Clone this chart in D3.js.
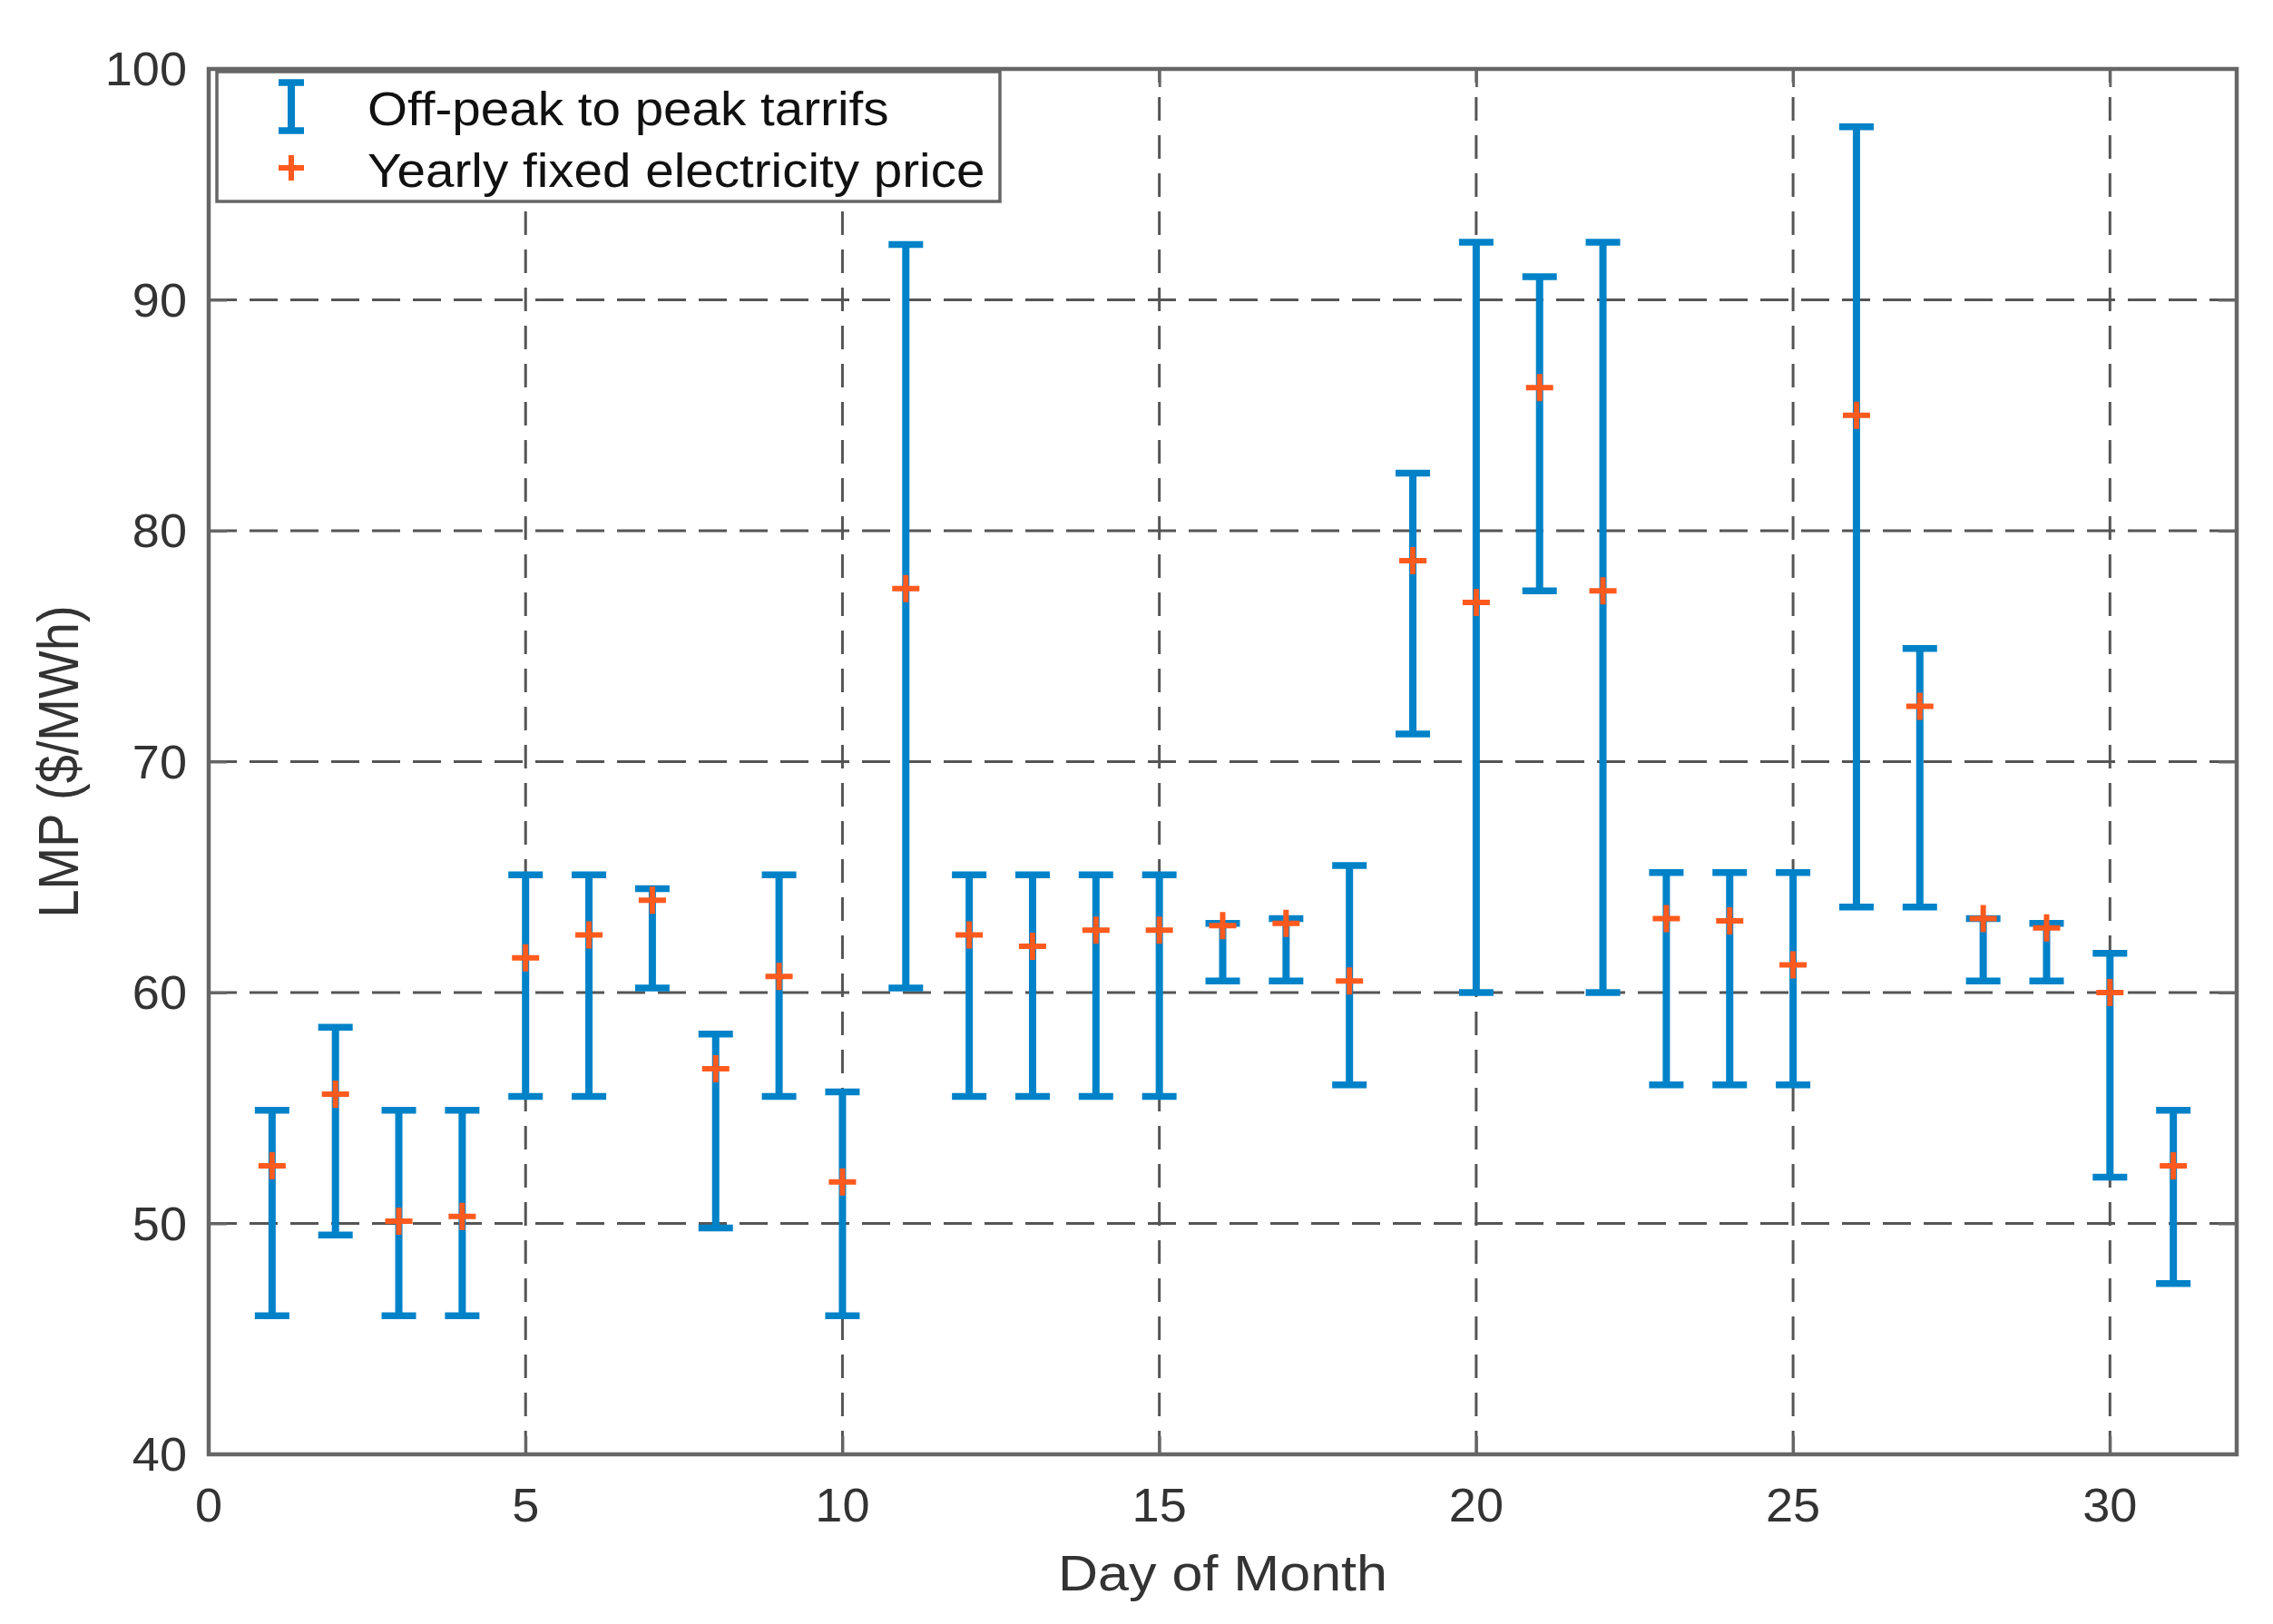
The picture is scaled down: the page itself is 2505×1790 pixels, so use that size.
<!DOCTYPE html>
<html>
<head>
<meta charset="utf-8">
<script src="https://d3js.org/d3.v7.min.js"></script>
<style>
    body { margin: 0; background: #fff; }
    text { font-family: "Liberation Sans", Arial, sans-serif; }
</style>
</head>
<body>
<script>

// dage i maaneden
var days = [1, 2, 3, 4, 5, 6, 7, 8, 9, 10, 11, 12, 13, 14, 15, 16,
            17, 18, 19, 20, 21, 22, 23, 24, 25, 26, 27, 28, 29, 30, 31];

// off-peak (lav) og peak (hoej) tarif
var offPeak = [46, 49.5, 46, 46, 55.5, 55.5, 60.2, 49.8, 55.5, 46, 60.2, 55.5, 55.5, 55.5, 55.5, 60.5,
               60.5, 56, 71.2, 60, 77.4, 60, 56, 56, 56, 63.7, 63.7, 60.5, 60.5, 52, 47.4];
var peak = [54.9, 58.5, 54.9, 54.9, 65.1, 65.1, 64.5, 58.2, 65.1, 55.7, 92.4, 65.1, 65.1, 65.1, 65.1, 63.0,
            63.2, 65.5, 82.5, 92.5, 91.0, 92.5, 65.2, 65.2, 65.2, 97.5, 74.9, 63.2, 63.0, 61.7, 54.9];

// fast aarlig elpris
var fixedPrice = [52.5, 55.6, 50.1, 50.3, 61.5, 62.5, 64.0, 56.7, 60.7, 51.8, 77.5, 62.5, 62.0, 62.7, 62.7, 62.9,
                  63.0, 60.5, 78.7, 76.9, 86.2, 77.4, 63.2, 63.1, 61.2, 85.0, 72.4, 63.2, 62.8, 60.0, 52.5];

var xTicks = [0, 5, 10, 15, 20, 25, 30];
var yTicks = [40, 50, 60, 70, 80, 90, 100];
var legendLabels = ['Off-peak to peak tarrifs', 'Yearly fixed electricity price'];

d3.select(window).on('load', init);

function init() {

    var w = 2505;
    var h = 1790;
    var margin = {top: 76, right: 40, bottom: 187, left: 230};

    var blue = '#0082c8';
    var orange = '#ff5a1e';
    var axisColor = '#666666';

    var svg = d3.select('body')
        .append('svg')
        .attr('width', w)
        .attr('height', h);

    var xScale = d3.scaleLinear()
        .domain([0, 32])
        .range([margin.left, w - margin.right]);

    var yScale = d3.scaleLinear()
        .domain([40, 100])
        .range([h - margin.bottom, margin.top]);

    var x0 = xScale.range()[0], x1 = xScale.range()[1];
    var y0 = yScale.range()[0], y1 = yScale.range()[1];

    // grid
    svg.append('g')
        .selectAll('line')
        .data(yTicks.slice(1, -1))
        .enter()
        .append('line')
        .attr('x1', x0).attr('x2', x1)
        .attr('y1', function(d){ return yScale(d); })
        .attr('y2', function(d){ return yScale(d); })
        .attr('stroke', '#555')
        .attr('stroke-width', 3)
        .attr('stroke-dasharray', '31,14');

    svg.append('g')
        .selectAll('line')
        .data(xTicks.slice(1))
        .enter()
        .append('line')
        .attr('y1', y0).attr('y2', y1)
        .attr('x1', function(d){ return xScale(d); })
        .attr('x2', function(d){ return xScale(d); })
        .attr('stroke', '#555')
        .attr('stroke-width', 3)
        .attr('stroke-dasharray', '26,16');

    var data = days.map(function(d, i){
        return {day: d, lo: offPeak[i], hi: peak[i], fixed: fixedPrice[i]};
    });

    // error bars
    var bars = svg.append('g')
        .selectAll('g')
        .data(data)
        .enter()
        .append('g')
        .attr('stroke', blue);

    bars.append('line')
        .attr('x1', function(d){ return xScale(d.day); })
        .attr('x2', function(d){ return xScale(d.day); })
        .attr('y1', function(d){ return yScale(d.lo); })
        .attr('y2', function(d){ return yScale(d.hi); })
        .attr('stroke-width', 8);

    bars.selectAll('.cap')
        .data(function(d){ return [{day: d.day, v: d.lo}, {day: d.day, v: d.hi}]; })
        .enter()
        .append('line')
        .attr('class', 'cap')
        .attr('x1', function(d){ return xScale(d.day) - 19; })
        .attr('x2', function(d){ return xScale(d.day) + 19; })
        .attr('y1', function(d){ return yScale(d.v); })
        .attr('y2', function(d){ return yScale(d.v); })
        .attr('stroke-width', 7.5);

    // plus markers
    svg.append('g')
        .selectAll('path')
        .data(data)
        .enter()
        .append('path')
        .attr('d', function(d){
            var x = xScale(d.day), y = yScale(d.fixed);
            return 'M' + (x - 15) + ',' + y + 'H' + (x + 15) + 'M' + x + ',' + (y - 15) + 'V' + (y + 15);
        })
        .attr('stroke', orange)
        .attr('stroke-width', 6)
        .attr('fill', 'none');

    // akser med ticks indad
    var xAxisB = d3.axisBottom(xScale).tickValues(xTicks).tickSize(-20).tickFormat('');
    var xAxisT = d3.axisTop(xScale).tickValues(xTicks).tickSize(-20).tickFormat('');
    var yAxisL = d3.axisLeft(yScale).tickValues(yTicks).tickSize(-20).tickFormat('');
    var yAxisR = d3.axisRight(yScale).tickValues(yTicks).tickSize(-20).tickFormat('');

    [[xAxisB, 'translate(0,' + y0 + ')'], [xAxisT, 'translate(0,' + y1 + ')'],
     [yAxisL, 'translate(' + x0 + ',0)'], [yAxisR, 'translate(' + x1 + ',0)']].forEach(function(a){
        var g = svg.append('g').attr('transform', a[1]).call(a[0]);
        g.select('.domain').remove();
        g.selectAll('line').attr('stroke', axisColor).attr('stroke-width', 3);
    });

    svg.append('rect')
        .attr('x', x0).attr('y', y1)
        .attr('width', x1 - x0).attr('height', y0 - y1)
        .attr('fill', 'none')
        .attr('stroke', axisColor)
        .attr('stroke-width', 4.5);

    // tick labels
    svg.append('g')
        .selectAll('text')
        .data(xTicks)
        .enter()
        .append('text')
        .attr('transform', function(d){ return 'translate(' + xScale(d) + ',1677) scale(1.04,1)'; })
        .attr('text-anchor', 'middle')
        .attr('font-size', 52)
        .attr('fill', '#333')
        .text(function(d){ return d; });

    svg.append('g')
        .selectAll('text')
        .data(yTicks)
        .enter()
        .append('text')
        .attr('transform', function(d){ return 'translate(' + (x0 - 24) + ',' + (yScale(d) + 18) + ') scale(1.04,1)'; })
        .attr('text-anchor', 'end')
        .attr('font-size', 52)
        .attr('fill', '#333')
        .text(function(d){ return d; });

    // aksetitler
    svg.append('text')
        .attr('transform', 'translate(' + ((x0 + x1) / 2) + ',1753) scale(1.09,1)')
        .attr('text-anchor', 'middle')
        .attr('font-size', 56)
        .attr('fill', '#333')
        .text('Day of Month');

    svg.append('text')
        .attr('transform', 'translate(86,' + ((y0 + y1) / 2) + ') scale(1.12,1) rotate(-90)')
        .attr('text-anchor', 'middle')
        .attr('font-size', 56)
        .attr('fill', '#333')
        .text('LMP ($/MWh)');

    // legend
    var legend = svg.append('g');
    legend.append('rect')
        .attr('x', 239).attr('y', 79)
        .attr('width', 863).attr('height', 143)
        .attr('fill', '#fff')
        .attr('stroke', axisColor)
        .attr('stroke-width', 3.5);

    var lx = 321;
    legend.append('line')
        .attr('x1', lx).attr('x2', lx).attr('y1', 91).attr('y2', 144)
        .attr('stroke', blue).attr('stroke-width', 8);
    [91, 144].forEach(function(y){
        legend.append('line')
            .attr('x1', lx - 14).attr('x2', lx + 14).attr('y1', y).attr('y2', y)
            .attr('stroke', blue).attr('stroke-width', 7.5);
    });
    legend.append('path')
        .attr('d', 'M' + (lx - 14) + ',185H' + (lx + 14) + 'M' + lx + ',171V199')
        .attr('stroke', orange).attr('stroke-width', 6);

    legend.selectAll('.lt')
        .data(legendLabels)
        .enter()
        .append('text')
        .attr('class', 'lt')
        .attr('transform', function(d, i){ return 'translate(405,' + (i === 0 ? 138 : 206) + ') scale(1.11,1)'; })
        .attr('font-size', 51)
        .attr('fill', '#111')
        .text(function(d){ return d; });
}
</script>
</body>
</html>
